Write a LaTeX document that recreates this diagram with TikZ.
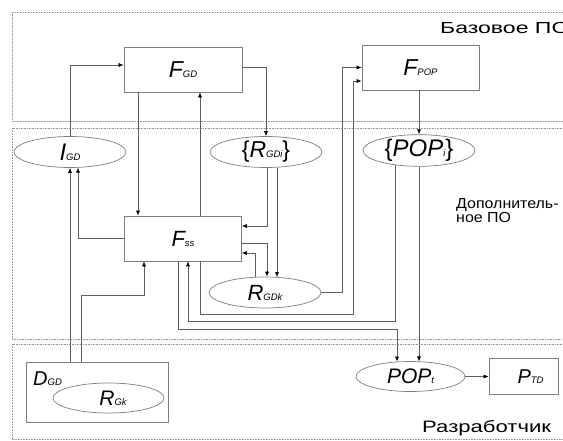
\documentclass[tikz,border=0pt]{standalone}
\usepackage{fontspec}
\setmainfont{Liberation Sans}
\usepackage{graphicx}
\usetikzlibrary{arrows.meta,positioning,calc,shapes.geometric}
\definecolor{zonegray}{RGB}{150,150,150}
\definecolor{boxgray}{RGB}{125,125,125}
\definecolor{linegray}{RGB}{95,95,95}
\newcommand{\vlabel}[4][9.5]{{\fontsize{#2}{#2}\selectfont\itshape #3}{\fontsize{#1}{#1}\selectfont\itshape #4}}
\newcommand{\vset}[3]{{\fontsize{#1}{#1}\selectfont\{}\vlabel{#1}{#2}{#3}{\fontsize{#1}{#1}\selectfont\}}}
\newcommand{\widetext}[2][1.38]{\scalebox{#1}[1]{#2}}
\tikzset{
  zone/.style={draw=zonegray, line width=0.6pt, dash pattern=on 0.7pt off 0.9pt},
  funcbox/.style={draw=boxgray, line width=0.7pt, minimum width=118pt, minimum height=45pt, inner sep=0pt},
  setnode/.style={draw=boxgray, line width=0.7pt, ellipse, minimum width=112pt, minimum height=31pt, inner sep=0pt},
  zonetext/.style={font=\fontsize{#1}{14}\selectfont, inner sep=0pt, align=left},
  arrow/.style={-{Latex[length=5pt,width=4pt,color=black]}, line width=0.6pt, draw=linegray}
}
\begin{document}
\begin{tikzpicture}[x=1pt,y=-1pt]
  \useasboundingbox (0,0) rectangle (563,441);
  % zones
  \draw[zone] (12,12) rectangle (580,121);
  \draw[zone] (12,128) rectangle (580,339);
  \draw[zone] (12,344) rectangle (580,439);
  \node[zonetext=16, anchor=base west] (basezone) at (440,34) {\widetext[1.44]{Базовое ПО}};
  \node[zonetext=14.5, anchor=north west] (addzone) at (456,198.5) {\widetext[1.1]{Дополнитель-}\\\widetext[1.1]{ное ПО}};
  \node[zonetext=16.5, anchor=base west] (devzone) at (422,432) {\widetext[1.34]{Разработчик}};

  % nodes
  \node[funcbox] (FGD) at (183,69.5) {\vlabel{23}{F}{GD}};
  \node[funcbox, minimum width=117pt] (FPOP) at (420.5,67.5) {\vlabel{23}{F}{POP}};
  \node[setnode] (IGD) at (70,152) {\vlabel{24}{I}{GD}};
  \node[setnode] (RGDi) at (266,152) {\vset{23}{R}{GDi}};
  \node[setnode] (POPi) at (419,150.5) {\vset{24}{POP}{i}};
  \node[funcbox, minimum width=117pt] (Fss) at (183,238.5) {\vlabel{22}{F}{ss}};
  \node[setnode] (RGDk) at (265,292.5) {\vlabel{22}{R}{GDk}};
  \node[funcbox, minimum width=142pt, minimum height=60pt] (DGD) at (97,392) {};
  \node[anchor=base west, inner sep=0pt] (DGDtext) at (33,385) {\vlabel{20}{D}{GD}};
  \node[setnode, minimum width=111pt, minimum height=30pt] (RGk) at (108.5,398) {\hspace*{9pt}\vlabel{21}{R}{Gk}};
  \node[setnode, minimum width=109pt, minimum height=30pt] (POPt) at (410.5,376.5) {\vlabel{21}{POP}{t}};
  \node[funcbox, minimum width=69pt, minimum height=36pt] (PTD) at (523.5,376.5) {\hspace*{14pt}\vlabel{20}{P}{TD}};

  % connectors
  \draw[arrow] (IGD.north) |- ($(FGD.west)+(0,-4.5)$);
  \draw[arrow] ($(FGD.east)+(0,-2.5)$) -| (RGDi.north);
  \draw[arrow] ($(FGD.south)+(-45,0)$) -- ($(Fss.north)+(-45,0)$);
  \draw[arrow] ($(Fss.north)+(17,0)$) -- ($(FGD.south)+(17,0)$);
  \draw[arrow] (Fss.west) -| ($(IGD.south)+(8,-0.2)$);
  \draw[arrow] (IGD.south |- DGD.north) -- (IGD.south);
  \draw[arrow] ($(IGD.south |- DGD.north)+(11,0)$) |- ($(Fss.south)+(-39,34)$) -- ($(Fss.south)+(-39,0)$);
  \draw[arrow] ($(RGDi.south)+(1,0)$) |- ($(Fss.east)+(0,-12.5)$);
  \draw[arrow] ($(RGDi.south)+(11,-0.2)$) -- ($(RGDk.north)+(12,0.4)$);
  \draw[arrow] ($(Fss.east)+(0,4.5)$) -| ($(RGDk.north)+(2,0)$);
  \draw[arrow] ($(RGDk.north)+(-10,0.3)$) |- ($(Fss.east)+(0,14.5)$);
  \draw[arrow] (RGDk.east) -- ++(21,0) |- (FPOP.west);
  \draw[arrow] ($(Fss.south)+(17,0)$) -- ++(0,53) -- ++(153,0) |- ($(FPOP.west)+(0,13.5)$);
  \draw[arrow] ($(POPi.south)+(-24,-1.5)$) |- ($(Fss.south)+(5,60)$) -- ($(Fss.south)+(5,0)$);
  \draw[arrow] ($(Fss.south)+(-5,0)$) -- ++(0,68) -| ($(POPt.north)+(-13.5,0.5)$);
  \draw[arrow] (POPi.north |- FPOP.south) -- (POPi.north);
  \draw[arrow] (POPi.south) -- ($(POPi.south |- POPt.north)+(0,0.3)$);
  \draw[arrow] (POPt.east) -- (PTD.west);
\end{tikzpicture}
\end{document}
